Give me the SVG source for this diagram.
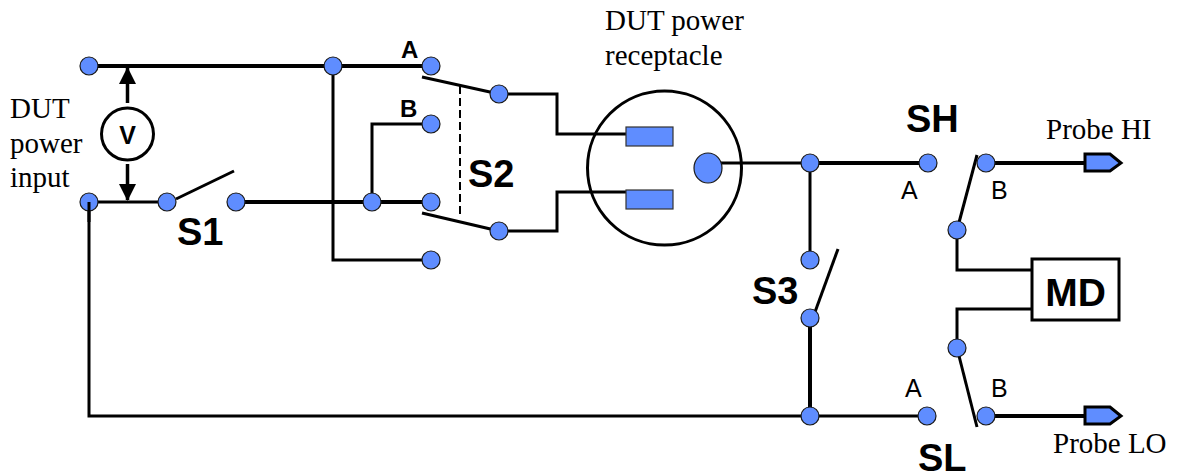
<svg xmlns="http://www.w3.org/2000/svg" width="1177" height="475" viewBox="0 0 1177 475">
<style>
.w{fill:none;stroke:#000;stroke-width:3;stroke-linejoin:miter}
.t{stroke-width:4}
.n{fill:#5f8dff;stroke:#1a1a1a;stroke-width:1.2}
.s{font-family:"Liberation Serif",serif;font-size:29px;fill:#000}
.h{font-family:"Liberation Sans",sans-serif;font-weight:bold;fill:#000}
.a{font-family:"Liberation Sans",sans-serif;font-size:25px;fill:#000}
</style>
<defs>
<marker id="ah" markerUnits="userSpaceOnUse" markerWidth="18" markerHeight="18" refX="16" refY="8.5" orient="auto"><path d="M0 0L17 8.5L0 17Z" fill="#000"/></marker>
</defs>
<g id="connectors">
<path class="w t" d="M89 66H431"/>
<path class="w" d="M89 202H167"/>
<path class="w t" d="M236 202H431"/>
<path class="w" d="M333 66V260H431"/>
<path class="w" d="M372 202V124H431"/>
<path class="w" d="M89 202V416H810"/>
<path class="w" d="M176 199L234 171"/>
<path class="w" d="M422 77L499 94"/>
<path class="w" d="M422 213L499 231"/>
<path d="M460 86V218" fill="none" stroke="#000" stroke-width="2" stroke-dasharray="8 4"/>
<path class="w" d="M499 94H557V134H626"/>
<path class="w" d="M499 231H557V192H626"/>
<path class="w" d="M708 163H810"/>
<path class="w t" d="M810 163H928"/>
<path class="w" d="M810 163V260"/>
<path class="w t" d="M810 318V416"/>
<path class="w" d="M810 416H927"/>
<path class="w" d="M815 312L838 249"/>
<path class="w" d="M957 230L977 155"/>
<path class="w" d="M957 348L977 427"/>
<path class="w t" d="M986 163H1086"/>
<path class="w t" d="M986 416H1086"/>
<path class="w" d="M957 230V270H1034"/>
<path class="w" d="M957 348V309H1034"/>
<path d="M127.500 103V68" fill="none" stroke="#000" stroke-width="3.5" marker-end="url(#ah)"/>
<path d="M127.500 164V200" fill="none" stroke="#000" stroke-width="3.5" marker-end="url(#ah)"/>
</g>
<g id="voltmeter"><circle cx="127.500" cy="134" r="26" fill="#fff" stroke="#000" stroke-width="3"/><text class="h" x="127.500" y="144" font-size="25" text-anchor="middle">V</text></g>
<g id="receptacle">
<circle cx="664.500" cy="168" r="77" fill="none" stroke="#000" stroke-width="3"/>
<rect x="626" y="127" width="47" height="19" fill="#5f8dff" stroke="#333" stroke-width="1.200"/>
<rect x="626" y="190" width="47" height="19" fill="#5f8dff" stroke="#333" stroke-width="1.200"/>
<ellipse cx="708" cy="168" rx="14" ry="15" class="n"/>
</g>
<g id="md"><rect x="1032" y="259" width="87" height="61" fill="#fff" stroke="#000" stroke-width="3"/><text class="h" x="1075.500" y="306" font-size="39" text-anchor="middle">MD</text></g>
<g id="probe-hi"><path d="M1085 154H1110L1121 163L1110 171H1085Z" fill="#5f8dff" stroke="#000" stroke-width="3"/></g>
<g id="probe-lo"><path d="M1085 407H1110L1121 416L1110 424H1085Z" fill="#5f8dff" stroke="#000" stroke-width="3"/></g>
<g id="terminals">
<circle class="n" cx="89" cy="66" r="9"/><circle class="n" cx="333" cy="66" r="9"/><circle class="n" cx="431" cy="66" r="9"/>
<circle class="n" cx="499" cy="94" r="9"/><circle class="n" cx="431" cy="124" r="9"/><circle class="n" cx="372" cy="202" r="9"/>
<circle class="n" cx="431" cy="202" r="9"/><circle class="n" cx="499" cy="231" r="9"/><circle class="n" cx="431" cy="260" r="9"/>
<circle class="n" cx="89" cy="202" r="9"/><circle class="n" cx="167" cy="202" r="9"/><circle class="n" cx="236" cy="202" r="9"/>
<circle class="n" cx="810" cy="163" r="9"/><circle class="n" cx="928" cy="163" r="9"/><circle class="n" cx="986" cy="163" r="9"/>
<circle class="n" cx="957" cy="230" r="9"/><circle class="n" cx="810" cy="260" r="9"/><circle class="n" cx="810" cy="318" r="9"/>
<circle class="n" cx="957" cy="348" r="9"/><circle class="n" cx="810" cy="416" r="9"/><circle class="n" cx="927" cy="416" r="9"/><circle class="n" cx="986" cy="416" r="9"/>
</g>
<path d="M89 202V222" fill="none" stroke="#000" stroke-width="3"/>
<g id="labels">
<text class="s" x="10" y="118">DUT</text><text class="s" x="10" y="153">power</text><text class="s" x="10" y="187">input</text>
<text class="s" x="605" y="30">DUT power</text><text class="s" x="605" y="65">receptacle</text>
<text class="s" x="1046" y="139">Probe HI</text><text class="s" x="1053" y="453">Probe LO</text>
<text class="h" x="177" y="245" font-size="38">S1</text><text class="h" x="468" y="187" font-size="38">S2</text>
<text class="h" x="752" y="304" font-size="38">S3</text><text class="h" x="906" y="132" font-size="38">SH</text><text class="h" x="918" y="471" font-size="38">SL</text>
<text class="h" x="401" y="58" font-size="24">A</text><text class="h" x="400" y="117" font-size="24">B</text>
<text class="a" x="901" y="199">A</text><text class="a" x="991" y="199">B</text>
<text class="a" x="905" y="397">A</text><text class="a" x="991" y="397">B</text>
</g>
</svg>
